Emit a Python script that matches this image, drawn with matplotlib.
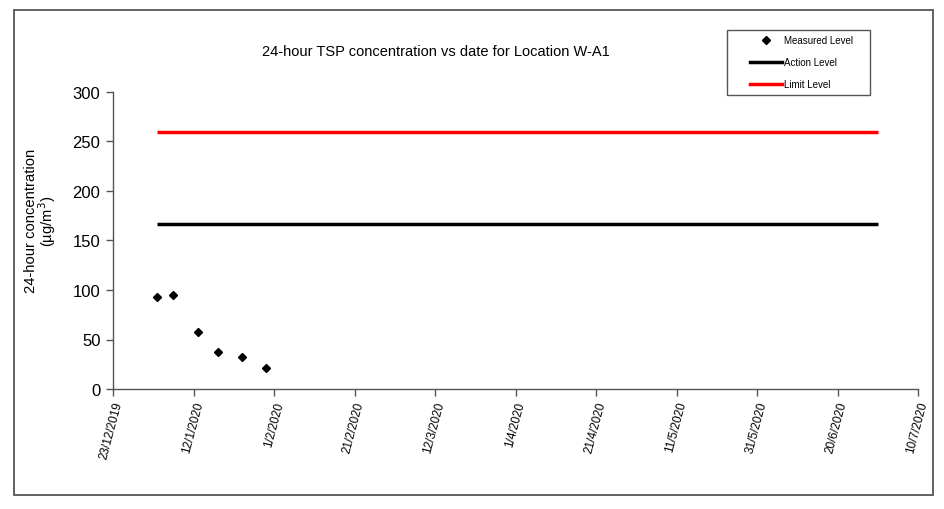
import matplotlib
matplotlib.use("Agg")
import matplotlib.pyplot as plt
from matplotlib.patches import Rectangle
from matplotlib.lines import Line2D
from datetime import datetime, timedelta

plt.rcParams['font.family'] = ['Liberation Sans', 'DejaVu Sans']

# Measured 24-hour TSP levels
sample_dates = ["2020-01-03", "2020-01-07", "2020-01-13", "2020-01-18", "2020-01-24", "2020-01-30"]
measured = [92.6, 95, 57.6, 37, 32.6, 21]

# Action / limit levels over the monitoring period
level_dates = ["2020-01-03", "2020-06-30"]
action_level = [167, 167]
limit_level = [260, 260]

x_start = "2019-12-23"
x_end = "2020-07-10"
tick_step_days = 20
y_ticks = [0, 50, 100, 150, 200, 250, 300]

W, H, DPI = 945, 510, 100
fig = plt.figure(figsize=(W / DPI, H / DPI), dpi=DPI)
fig.patch.set_facecolor("white")

# Outer frame around the chart
fig.add_artist(Rectangle((14.5 / W, 1 - 496 / H), (933 - 14.5) / W, (496 - 11) / H,
                         transform=fig.transFigure, fill=False,
                         edgecolor="#555555", linewidth=1.3))

ax = fig.add_axes([113 / W, 1 - 390 / H, (918 - 113) / W, (390 - 93) / H])

to_dt = lambda s: datetime.strptime(s, "%Y-%m-%d")
sd = [to_dt(d) for d in sample_dates]
ld = [to_dt(d) for d in level_dates]

ax.plot(ld, limit_level, color="#ff0000", linewidth=2.5, solid_capstyle="butt")
ax.plot(ld, action_level, color="black", linewidth=2.5, solid_capstyle="butt")
ax.plot(sd, measured, linestyle="none", marker="D", markersize=4.5,
        color="black")

x0, x1 = to_dt(x_start), to_dt(x_end)
ax.set_xlim(x0, x1)
ax.set_ylim(0, 300)
ticks = []
t = x0
while t <= x1:
    ticks.append(t)
    t += timedelta(days=tick_step_days)
ax.set_xticks(ticks)
ax.set_xticklabels([f"{d.day}/{d.month}/{d.year}" for d in ticks],
                   rotation=75, ha="right", rotation_mode="anchor", fontsize=8.5)
ax.set_yticks(y_ticks)
ax.set_yticklabels([str(v) for v in y_ticks], fontsize=12)

for s in ("top", "right"):
    ax.spines[s].set_visible(False)
for s in ("left", "bottom"):
    ax.spines[s].set_color("#555555")
    ax.spines[s].set_linewidth(1)
ax.tick_params(axis="both", direction="out", length=5, color="#555555", width=1)
ax.tick_params(axis="y", pad=4)
ax.tick_params(axis="x", pad=3)

ax.set_ylabel("24-hour concentration\n(µg/m$^3$)", fontsize=10.6, linespacing=0.9)
ax.yaxis.set_label_coords(-0.068, 0.569)

fig.text(436 / W, 1 - 52 / H, "24-hour TSP concentration vs date for Location W-A1",
         ha="center", va="center", fontsize=10.5)

# Legend box with its entries
fig.add_artist(Rectangle((727 / W, 1 - 96 / H), (870 - 727) / W, (96 - 31) / H,
                         transform=fig.transFigure, fill=False,
                         edgecolor="#555555", linewidth=1))
handles = [
    Line2D([], [], linestyle="none", marker="D", markersize=3.8, color="black"),
    Line2D([], [], color="black", linewidth=2.5),
    Line2D([], [], color="#ff0000", linewidth=2.5),
]
labels = ["Measured Level", "Action Level", "Limit Level"]
fig.legend(handles, labels, loc="upper left",
           bbox_to_anchor=(750 / W, 1 - 36 / H), fontsize=7,
           frameon=False, handlelength=3.3, handletextpad=0.15,
           labelspacing=1.25, borderpad=0, borderaxespad=0)

fig.savefig("out.png", dpi=DPI, facecolor="white")
